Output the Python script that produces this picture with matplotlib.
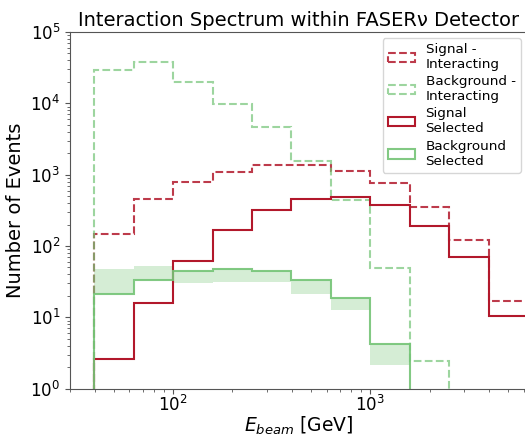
import numpy as np
import matplotlib
matplotlib.use("Agg")
import matplotlib.pyplot as plt

# Bin edges (GeV)
edges = [39.8, 63.1, 100.0, 158.5, 251.2, 398.1, 631.0, 1000.0, 1584.9, 2511.9, 3981.1, 6309.6]

sig_int = [146, 450, 778, 1084, 1380, 1380, 1133, 754, 352, 120, 17.1]
bkg_int = [29450, 38100, 20030, 9660, 4710, 1578, 436, 49, 2.44, 0, 0]
sig_sel = [2.6, 16.0, 62, 168, 323, 461, 480, 371, 191, 70.5, 10.5]
bkg_sel = [21.2, 33.3, 44.5, 47.9, 44.5, 33.0, 18.8, 4.25, 0, 0, 0]
bkg_sel_alt = [47.4, 52.2, 30.5, 30.9, 31.4, 21.4, 12.8, 2.18]

labels = ["Signal -\nInteracting", "Background -\nInteracting",
          "Signal\nSelected", "Background\nSelected"]

red = "#b2182b"
green = "#74c476"

fig = plt.figure(figsize=(5.25, 4.36), dpi=100)
W, H = 525, 436
ax = fig.add_axes([70 / W, (H - 388.7) / H, 458 / W, 356.7 / H])
ax.set_xscale("log")
ax.set_yscale("log")

centers = np.sqrt(np.array(edges[:-1]) * np.array(edges[1:]))

ax.hist(centers, bins=edges, weights=sig_int, histtype="step", color=red,
        linestyle="--", linewidth=1.5, alpha=0.85, label=labels[0])
ax.hist(centers, bins=edges, weights=bkg_int, histtype="step", color=green,
        linestyle="--", linewidth=1.5, alpha=0.7, label=labels[1])
ax.hist(centers, bins=edges, weights=sig_sel, histtype="step", color=red,
        linestyle="-", linewidth=1.5, label=labels[2])
ax.hist(centers, bins=edges, weights=bkg_sel, histtype="step", color=green,
        linestyle="-", linewidth=1.5, alpha=0.9, label=labels[3])

n = len(bkg_sel_alt)
band_x = edges[: n + 1]
lo = np.minimum(bkg_sel[:n], bkg_sel_alt)
hi = np.maximum(bkg_sel[:n], bkg_sel_alt)
ax.fill_between(band_x, np.append(lo, lo[-1]), np.append(hi, hi[-1]),
                step="post", color=green, alpha=0.3, linewidth=0)

ax.set_xlim(30, 6310)
ax.set_ylim(1, 1e5)

for s in ax.spines.values():
    s.set_color("#555555")
ax.tick_params(which="both", colors="#555555", labelcolor="black")
ax.tick_params(which="major", labelsize=12, length=3.5)
ax.tick_params(which="minor", length=2)
ax.tick_params(axis="x", which="major", pad=1)

ax.set_title("Interaction Spectrum within FASER\u03bd Detector", fontsize=14, pad=4)
ax.set_xlabel("$E_{beam}$ [GeV]", fontsize=13.5, labelpad=0)
ax.set_ylabel("Number of Events", fontsize=14)

leg = ax.legend(loc="upper right", fontsize=9.7,
                borderaxespad=0.0, labelspacing=0.3)
leg.set_bbox_to_anchor((1 - 7 / 458, 1 - 6 / 356.7), transform=ax.transAxes)

fig.savefig("out.png", dpi=100)
